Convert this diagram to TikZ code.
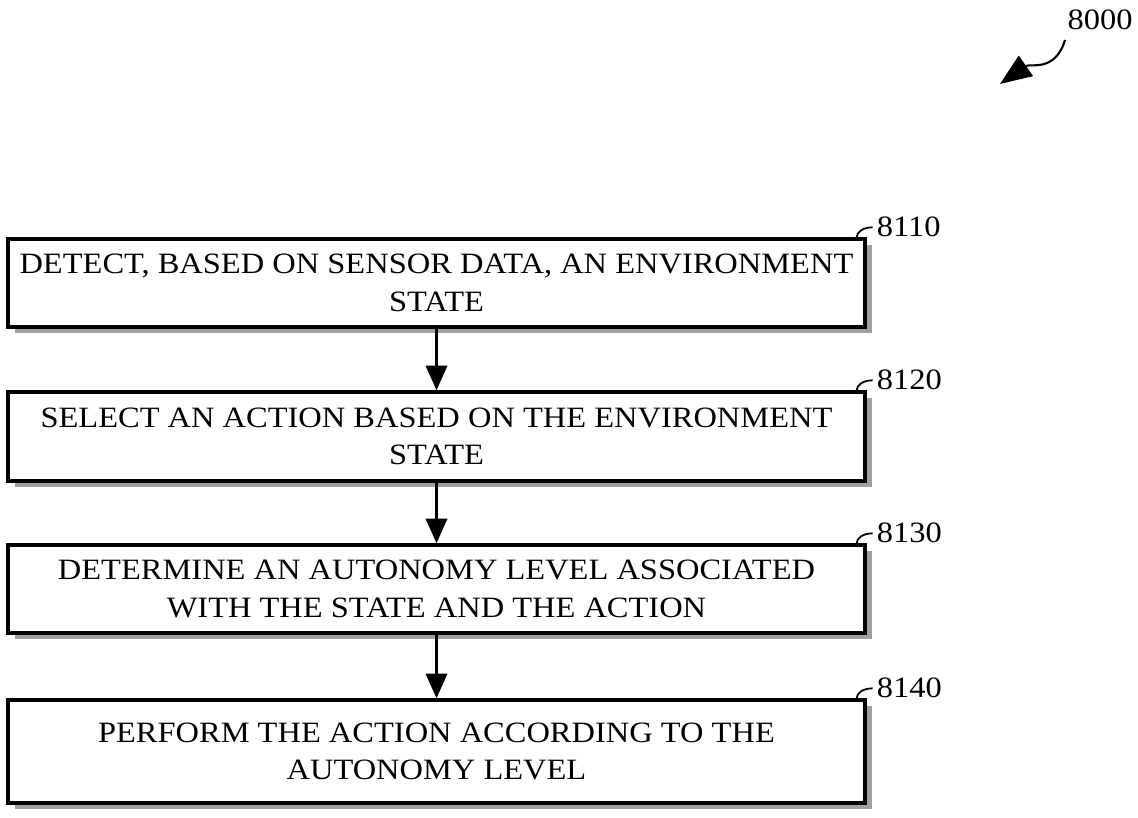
\documentclass[tikz,border=0pt]{standalone}
\usepackage{fontspec}
\setmainfont[FakeStretch=1.1]{Liberation Serif}
\usetikzlibrary{arrows.meta,positioning,shadows}
\definecolor{shadowgray}{RGB}{160,160,160}

\tikzset{
  stepbox/.style={draw=black, line width=0.95pt, fill=white, minimum width=8.57cm,
    align=center, inner sep=0pt,
    font=\fontsize{8.4}{10.6}\selectfont,
    drop shadow={shadow xshift=0.065cm, shadow yshift=-0.065cm, fill=shadowgray, opacity=1}},
  reflabel/.style={font=\fontsize{8.4}{10}\selectfont, inner sep=1pt},
  flowarrow/.style={-{Triangle[length=7pt,width=6pt]}, line width=0.9pt},
}

\begin{document}
\begin{tikzpicture}
\useasboundingbox (0,0) rectangle (11.38,8.18);

% flow steps
\node[stepbox, minimum height=0.88cm] (detect) at (4.365,5.35)
  {DETECT, BASED ON SENSOR DATA, AN ENVIRONMENT\\STATE};
\node[stepbox, minimum height=0.89cm] (select) at (4.365,3.815)
  {SELECT AN ACTION BASED ON THE ENVIRONMENT\\STATE};
\node[stepbox, minimum height=0.88cm] (determine) at (4.365,2.29)
  {DETERMINE AN AUTONOMY LEVEL ASSOCIATED\\WITH THE STATE AND THE ACTION};
\node[stepbox, minimum height=1.03cm] (perform) at (4.365,0.665)
  {PERFORM THE ACTION ACCORDING TO THE\\AUTONOMY LEVEL};

% arrows between steps
\draw[flowarrow] (detect.south) -- (select.north);
\draw[flowarrow] (select.south) -- (determine.north);
\draw[flowarrow] (determine.south) -- (perform.north);

% reference numerals
\foreach \stepname/\num in {detect/8110, select/8120, determine/8130, perform/8140} {
  \node[reflabel, anchor=west] (lbl\num) at ([xshift=0.06cm,yshift=0.1cm]\stepname.north east) {\num};
  \draw[line width=0.5pt] (lbl\num.west) .. controls +(-0.1,0) and +(0,0.05) .. ([xshift=-0.1cm]\stepname.north east);
}

% figure numeral
\node[reflabel] (fig) at (11.0,7.98) {8000};
\coordinate (figtail) at (10.65,7.78);
\coordinate (figtip) at (10.0,7.34);
\draw[line width=0.6pt, -{Triangle[length=9pt,width=7pt]}] (figtail)
  .. controls (10.55,7.45) and (10.3,7.55) .. (figtip);
\end{tikzpicture}
\end{document}
